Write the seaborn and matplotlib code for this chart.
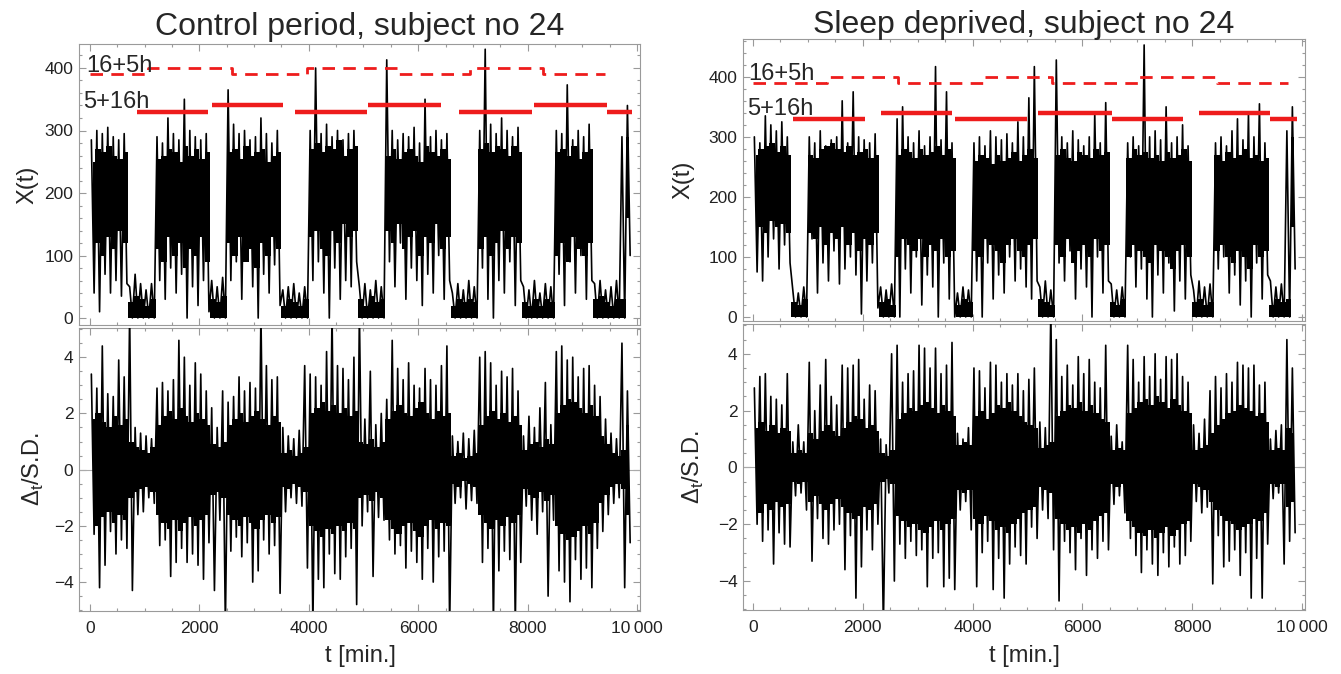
import numpy as np
import pandas as pd
import seaborn as sns
import matplotlib.pyplot as plt
from matplotlib.ticker import MultipleLocator

sns.set_style("ticks")
plt.rcParams['font.family'] = ['Liberation Sans', 'DejaVu Sans']
plt.rcParams['mathtext.fontset'] = 'custom'
plt.rcParams['mathtext.rm'] = 'Liberation Sans'

RED = '#ee1c1c'
GRAY = '#9a9a9a'

# all trace values are per 100 min bin (bin k covers k*100 .. k*100+100)
# blocks (W = awake, S = asleep), left: W7 S5 W10 S3 W10 S5 W9 S5 W12 S5 W8 S6 W7 S5 W2
left_top_hi = [285, 300, 295, 305, 290, 285, 295, 50, 70, 55,
               45, 55, 290, 280, 320, 295, 285, 350, 300, 290,
               285, 295, 60, 50, 65, 365, 310, 295, 300, 285,
               290, 320, 295, 280, 300, 45, 50, 55, 40, 50,
               300, 400, 295, 310, 290, 300, 285, 295, 300, 50,
               55, 45, 60, 50, 413, 300, 285, 295, 290, 305,
               280, 350, 290, 300, 285, 295, 40, 55, 45, 60,
               50, 300, 430, 310, 295, 320, 300, 290, 305, 50,
               45, 60, 40, 55, 50, 300, 295, 373, 285, 300,
               290, 310, 55, 60, 45, 50, 60, 290, 340]
left_top_lo = [40, 10, 70, 40, 60, 35, 55, 0, 0, 0,
               0, 0, 60, 30, 80, 40, 70, 0, 50, 20,
               60, 10, 0, 0, 0, 60, 90, 30, 100, 50,
               0, 70, 40, 85, 20, 0, 0, 0, 0, 0,
               60, 90, 40, 0, 80, 30, 60, 50, 90, 0,
               0, 0, 0, 0, 90, 50, 120, 30, 80, 60,
               20, 70, 40, 100, 30, 60, 0, 0, 0, 0,
               0, 80, 30, 0, 60, 40, 90, 20, 60, 0,
               0, 0, 0, 0, 0, 70, 20, 90, 40, 100,
               30, 60, 0, 0, 0, 0, 0, 0, 100]
# dense part of the trace
left_top_core_hi = [250, 270, 265, 275, 260, 255, 265,
                    25, 35, 30, 20, 30,
                    255, 260, 270, 265, 250, 275, 260, 270, 255, 265,
                    30, 25, 35,
                    265, 270, 255, 275, 260, 265, 270, 250, 260, 265,
                    20, 30, 25, 20, 30,
                    270, 280, 265, 275, 270, 285, 260, 270, 275,
                    30, 20, 35, 25, 30,
                    260, 270, 255, 265, 270, 260, 250, 275, 265, 260, 270, 255,
                    20, 30, 25, 30, 25,
                    270, 280, 265, 275, 270, 260, 275, 265,
                    25, 20, 30, 20, 30, 25,
                    265, 270, 260, 275, 255, 265, 270,
                    30, 35, 25, 20, 30,
                    30, 290]
left_top_core_lo = [90, 120, 100, 130, 110, 140, 120,
                    0, 0, 0, 0, 0,
                    110, 90, 130, 100, 120, 80, 110, 100, 130, 90,
                    0, 0, 0,
                    120, 100, 130, 90, 110, 80, 120, 100, 130, 110,
                    0, 0, 0, 0, 0,
                    130, 140, 110, 100, 140, 120, 150, 130, 140,
                    0, 0, 0, 0, 0,
                    140, 120, 150, 110, 130, 140, 100, 130, 120, 150, 110, 130,
                    0, 0, 0, 0, 0,
                    110, 130, 100, 120, 140, 110, 130, 120,
                    0, 0, 0, 0, 0, 0,
                    100, 120, 90, 130, 110, 100, 120,
                    0, 0, 0, 0, 0,
                    0, 160]

# right: W7 S3 W13 S3 W11 S3 W12 S3 W10 S3 W12 S4 W10 S3 W2
right_top_hi = [300, 290, 335, 320, 310, 325, 300,
                45, 40, 50,
                300, 290, 310, 285, 295, 300, 360, 290, 375, 300, 295, 290, 305,
                50, 45, 55,
                330, 350, 300, 290, 310, 285, 300, 417, 295, 375, 290,
                40, 50, 45,
                290, 300, 285, 310, 300, 295, 305, 290, 325, 300, 365, 417,
                50, 60, 45,
                428, 300, 290, 310, 295, 285, 300, 340, 290, 357,
                55, 45, 50,
                290, 300, 285, 453, 300, 310, 295, 350, 290, 300, 320, 285,
                45, 60, 50, 55,
                290, 300, 285, 310, 330, 295, 340, 300, 355, 290,
                60, 50, 55,
                310, 350]
right_top_lo = [75, 60, 100, 130, 80, 120, 90,
                0, 0, 0,
                130, 40, 90, 60, 110, 55, 80, 100, 70, 5, 60, 90, 15,
                0, 0, 0,
                0, 80, 40, 100, 20, 70, 50, 0, 90, 30, 0,
                0, 0, 0,
                60, 0, 90, 30, 70, 40, 100, 60, 80, 50, 30, 60,
                0, 0, 0,
                90, 60, 110, 30, 80, 50, 0, 100, 40, 60,
                0, 0, 0,
                100, 50, 80, 30, 0, 70, 40, 90, 10, 60, 30, 70,
                0, 0, 0, 0,
                80, 100, 40, 70, 20, 60, 0, 90, 30, 70,
                0, 0, 0,
                0, 80]
right_top_core_hi = [270, 280, 285, 290, 275, 285, 270,
                     25, 20, 30,
                     270, 265, 280, 285, 290, 280, 275, 285, 270, 275, 280, 265, 270,
                     25, 30, 20,
                     270, 280, 275, 265, 280, 270, 275, 285, 270, 280, 265,
                     20, 30, 25,
                     260, 270, 265, 255, 270, 260, 265, 275, 260, 270, 280, 265,
                     30, 25, 20,
                     270, 280, 265, 260, 275, 270, 265, 280, 270, 275,
                     25, 20, 30,
                     265, 280, 270, 275, 265, 270, 260, 275, 265, 270, 280, 260,
                     25, 30, 20, 25,
                     270, 260, 275, 265, 270, 280, 265, 270, 260, 265,
                     20, 30, 25,
                     30, 300]
right_top_core_lo = [130, 150, 140, 160, 150, 155, 140,
                     0, 0, 0,
                     140, 130, 150, 120, 140, 130, 150, 120, 140, 110, 130, 120, 140,
                     0, 0, 0,
                     100, 130, 120, 110, 130, 100, 120, 110, 130, 100, 110,
                     0, 0, 0,
                     110, 100, 130, 120, 110, 90, 120, 130, 110, 100, 120, 130,
                     0, 0, 0,
                     120, 100, 130, 90, 110, 120, 100, 130, 110, 120,
                     0, 0, 0,
                     100, 120, 110, 100, 90, 120, 110, 100, 80, 110, 120, 100,
                     0, 0, 0, 0,
                     110, 120, 100, 90, 110, 100, 80, 120, 100, 110,
                     0, 0, 0,
                     0, 150]

left_bot_hi = [3.4, 2.9, 4.4, 2.7, 2.6, 3.9, 3.3,
               5.6, 1.5, 1.3, 1.2, 1.1,
               2.9, 3.1, 2.8, 3.2, 4.6, 4.0, 3.0, 3.8, 3.4, 2.8,
               2.2, 1.5, 2.8,
               2.4, 2.6, 3.3, 2.8, 3.1, 2.9, 5.6, 3.7, 3.2, 3.3,
               1.5, 1.2, 1.1, 1.4, 3.7,
               3.4, 3.3, 3.0, 4.2, 5.6, 3.7, 3.6, 3.2, 4.0,
               5.6, 1.8, 3.5, 1.6, 2.0,
               2.5, 4.6, 3.6, 3.2, 3.8, 3.0, 2.9, 3.6, 3.2, 3.0, 3.7, 4.4,
               1.2, 1.0, 1.3, 1.1, 1.4,
               4.0, 4.2, 3.8, 3.0, 3.5, 3.3, 3.6, 2.8,
               1.2, 1.9, 1.5, 2.2, 3.1, 1.6,
               4.2, 4.4, 3.9, 4.0, 3.3, 3.6, 3.7, 3.0,
               2.6, 1.8, 1.3, 1.1, 4.5,
               2.8]
left_bot_lo = [-2.3, -4.2, -3.4, -2.2, -3.0, -2.5, -2.8,
               -4.3, -1.6, -1.5, -1.0, -1.2,
               -2.7, -2.5, -3.8, -3.3, -2.8, -3.3, -3.0, -3.4, -3.9, -2.6,
               -4.3, -1.8, -5.6,
               -2.9, -2.4, -3.1, -2.6, -4.0, -3.6, -2.5, -3.0, -2.7, -4.4,
               -1.5, -1.0, -1.2, -1.3, -3.5,
               -5.6, -3.9, -4.2, -3.0, -3.7, -3.9, -3.1, -2.8, -4.8,
               -2.0, -1.5, -3.8, -1.7, -1.8,
               -2.5, -3.0, -2.7, -3.5, -2.9, -3.3, -3.9, -2.8, -4.0, -3.1, -2.9, -5.6,
               -1.2, -1.0, -1.4, -1.1, -1.2,
               -3.3, -2.8, -5.6, -3.6, -2.9, -3.2, -5.6, -3.3,
               -1.3, -1.8, -2.3, -1.5, -4.5, -1.8,
               -3.6, -4.0, -4.7, -3.2, -3.9, -3.5, -4.2, -2.8,
               -2.2, -1.6, -1.2, -1.0, -4.2,
               -2.6]
left_bot_core = [1.8, 2.0, 1.7, 1.5, 1.9, 1.6, 1.8,
                 1.0, 0.8, 0.7, 0.6, 0.8,
                 1.6, 1.9, 2.1, 1.8, 2.2, 1.9, 1.7, 2.0, 1.8, 1.6,
                 0.9, 0.8, 1.0,
                 1.6, 1.8, 2.0, 1.7, 1.9, 2.1, 1.8, 1.6, 1.9, 1.7,
                 0.6, 0.7, 0.5, 0.6, 0.8,
                 2.0, 2.2, 2.4, 2.1, 2.3, 2.0, 2.2, 1.9, 2.1,
                 1.0, 0.9, 1.1, 0.8, 1.0,
                 1.8, 2.1, 2.3, 2.0, 1.9, 2.2, 2.4, 2.0, 1.8, 2.1, 1.9, 2.0,
                 0.5, 0.6, 0.4, 0.5, 0.6,
                 1.6, 1.9, 2.1, 1.8, 2.0, 1.7, 1.9, 1.6,
                 0.7, 0.9, 1.0, 0.8, 1.1, 0.9,
                 2.0, 2.3, 2.5, 2.4, 2.2, 2.0, 2.3, 1.9,
                 1.2, 0.9, 0.6, 0.5, 0.7,
                 1.6]

right_bot_hi = [2.8, 3.2, 3.3, 2.5, 2.4, 2.2, 3.3,
                0.9, 1.5, 0.9,
                3.7, 2.0, 2.9, 3.8, 2.5, 2.2, 3.6, 3.5, 3.6, 3.8, 2.4, 2.9, 2.7,
                1.0, 0.8, 4.0,
                4.3, 3.0, 3.3, 3.4, 4.3, 4.2, 3.5, 4.2, 3.3, 3.6, 4.4,
                1.2, 1.0, 1.4,
                3.5, 3.4, 2.8, 3.7, 3.6, 3.0, 3.3, 2.9, 3.3, 2.7, 3.1, 3.5,
                1.6, 1.4, 5.6,
                4.5, 3.2, 3.6, 2.9, 3.9, 3.3, 3.8, 3.0, 2.8, 4.3,
                1.1, 1.5, 0.9,
                4.3, 3.8, 3.0, 3.9, 3.2, 4.0, 3.1, 3.9, 3.8, 4.0, 3.2, 3.0,
                1.5, 1.2, 1.7, 2.7,
                3.2, 2.8, 3.3, 3.0, 3.7, 3.6, 3.5, 3.6, 2.9, 3.0,
                1.0, 1.3, 1.5,
                4.5, 3.5]
right_bot_lo = [-2.0, -2.6, -2.2, -3.4, -2.3, -2.7, -2.8,
                -1.0, -0.9, -1.5,
                -3.3, -1.8, -2.5, -2.7, -2.2, -2.0, -3.6, -2.4, -4.6, -3.5, -2.2, -2.9, -2.0,
                -5.6, -0.9, -4.0,
                -2.7, -3.2, -2.6, -3.1, -2.9, -4.2, -3.2, -3.0, -4.2, -3.9, -4.3,
                -1.5, -1.2, -2.2,
                -4.2, -3.0, -2.6, -4.3, -3.2, -4.6, -3.4, -2.8, -3.1, -3.4, -2.1, -2.5,
                -1.5, -1.8, -2.9,
                -4.7, -2.6, -3.0, -3.6, -2.5, -3.8, -2.9, -3.2, -2.6, -2.9,
                -1.3, -1.0, -1.6,
                -2.5, -3.1, -3.7, -2.9, -3.4, -3.8, -3.0, -3.5, -2.8, -3.4, -3.1, -2.6,
                -1.2, -1.6, -1.4, -4.1,
                -2.4, -3.5, -3.3, -2.9, -3.8, -3.0, -4.6, -3.2, -4.6, -2.7,
                -1.1, -0.9, -3.4,
                -2.6, -2.3]
right_bot_core = [1.4, 1.6, 1.3, 1.5, 1.2, 1.4, 1.3,
                  0.5, 0.6, 0.5,
                  1.2, 1.0, 1.3, 1.5, 1.3, 1.1, 1.4, 1.6, 1.8, 1.7, 1.4, 1.5, 1.3,
                  0.5, 0.4, 0.6,
                  1.7, 1.9, 2.1, 2.0, 2.2, 2.3, 2.1, 1.9, 2.2, 2.0, 1.8,
                  0.8, 0.9, 0.8,
                  1.8, 2.0, 1.7, 1.9, 2.2, 2.1, 2.3, 2.0, 1.8, 1.6, 1.5, 1.4,
                  0.7, 0.8, 0.9,
                  1.8, 2.0, 2.2, 2.1, 2.3, 2.0, 2.2, 1.9, 1.7, 1.6,
                  0.6, 0.7, 0.6,
                  1.9, 2.1, 2.3, 2.4, 2.2, 2.5, 2.3, 2.1, 2.4, 2.2, 2.0, 1.9,
                  0.6, 0.7, 0.8, 1.2,
                  1.5, 1.7, 1.9, 2.0, 2.2, 2.1, 2.0, 1.8, 1.9, 1.6,
                  0.6, 0.7, 0.6,
                  1.4, 1.2]

# red schedule lines
left_dash_t = [0, 1066, 2590, 3961, 5607, 6947, 8288, 9415]
left_dash_v = [390, 400, 390, 400, 390, 400, 390]
left_solid_t0 = [865, 2230, 3748, 5088, 6746, 8117, 9452]
left_solid_t1 = [2163, 3528, 5058, 6417, 8074, 9452, 9909]
left_solid_v = [330, 340, 330, 340, 330, 340, 330]
right_dash_t = [0, 1342, 2647, 4195, 5440, 7019, 8446, 9751]
right_dash_v = [390, 400, 390, 400, 390, 400, 390]
right_solid_t0 = [734, 2325, 3679, 5197, 6533, 8130, 9417]
right_solid_t1 = [2040, 3619, 4985, 6533, 7838, 9417, 9914]
right_solid_v = [330, 340, 330, 340, 330, 340, 330]

x_ticks = [0, 2000, 4000, 6000, 8000, 10000]
x_labels = ['0', '2000', '4000', '6000', '8000', '10\u2009000']

W, H = 1341, 674
fig = plt.figure(figsize=(W / 100, H / 100), dpi=100)


def box(l, t, r, b):
    return [l / W, 1 - b / H, (r - l) / W, (b - t) / H]


def draw_trace(ax, core_lo, core_hi, hi, lo):
    centers = np.arange(len(hi)) * 100 + 50
    ax.fill_between(centers, core_lo, core_hi, step='mid', color='black', lw=0, zorder=2)
    xs, ys = [], []
    for k, (h, l) in enumerate(zip(hi, lo)):
        xs += [k * 100 + 25, k * 100 + 75]
        ys += [h, l]
    sns.lineplot(x=xs, y=ys, ax=ax, color='black', lw=1.2, sort=False,
                 estimator=None, zorder=3)


def style(ax, xlim, ylim, yticks, yminor, show_x):
    ax.set_xlim(*xlim)
    ax.set_ylim(*ylim)
    ax.set_xticks(x_ticks)
    ax.set_xticklabels(x_labels if show_x else [])
    ax.xaxis.set_minor_locator(MultipleLocator(500))
    ax.set_yticks(yticks)
    ax.yaxis.set_minor_locator(MultipleLocator(yminor))
    ax.tick_params(which='both', direction='in', top=True, right=True,
                   color=GRAY, width=0.8, labelsize=12.5, labelcolor='#222222')
    ax.tick_params(which='major', length=5)
    ax.tick_params(which='minor', length=2.5)
    ax.tick_params(axis='x', pad=7, labelbottom=show_x)
    ax.tick_params(axis='y', pad=4)
    ax.set_xlabel('')
    ax.set_ylabel('')
    for s in ax.spines.values():
        s.set_color(GRAY)
        s.set_linewidth(0.8)


panels = [
    dict(xl=79, xr=640, tt=44, tb=325, bt=328, bb=611,
         tcl=left_top_core_lo, tch=left_top_core_hi, thi=left_top_hi, tlo=left_top_lo,
         bc=left_bot_core, bhi=left_bot_hi, blo=left_bot_lo,
         dt=left_dash_t, dv=left_dash_v, s0=left_solid_t0, s1=left_solid_t1, sv=left_solid_v,
         xlim=(-201, 10055), tylim=(-11.2, 438.4), bylim=(-5.03, 5.04),
         lab16=(-73, 394), lab5=(-128, 336),
         title='Control period, subject no 24', tx=360, ty=35, ylx=(27, 33)),
    dict(xl=743, xr=1305, tt=39, tb=321, bt=324, bb=610,
         tcl=right_top_core_lo, tch=right_top_core_hi, thi=right_top_hi, tlo=right_top_lo,
         bc=right_bot_core, bhi=right_bot_hi, blo=right_bot_lo,
         dt=right_dash_t, dv=right_dash_v, s0=right_solid_t0, s1=right_solid_t1, sv=right_solid_v,
         xlim=(-182, 10055), tylim=(-6.7, 463), bylim=(-5.02, 5.05),
         lab16=(-91, 395), lab5=(-115, 337),
         title='Sleep deprived, subject no 24', tx=1024, ty=33, ylx=(683, 693)),
]

for p in panels:
    ax_t = fig.add_axes(box(p['xl'], p['tt'], p['xr'], p['tb']))
    ax_b = fig.add_axes(box(p['xl'], p['bt'], p['xr'], p['bb']))

    # X(t)
    draw_trace(ax_t, p['tcl'], p['tch'], p['thi'], p['tlo'])
    ax_t.plot(p['dt'], p['dv'] + [p['dv'][-1]], drawstyle='steps-post', color=RED,
              lw=2.0, dashes=(4.5, 3), zorder=4)
    ax_t.hlines(p['sv'], p['s0'], p['s1'], color=RED, lw=3.2, zorder=4)
    ax_t.text(p['lab16'][0], p['lab16'][1], '16+5h', fontsize=17, va='baseline', zorder=5)
    ax_t.text(p['lab5'][0], p['lab5'][1], '5+16h', fontsize=17, va='baseline', zorder=5)
    style(ax_t, p['xlim'], p['tylim'], [0, 100, 200, 300, 400], 20, False)

    # Delta_t / S.D.
    bc = np.array(p['bc'])
    draw_trace(ax_b, -bc, bc, p['bhi'], p['blo'])
    ax_b.axhline(0, color='#aaaaaa', lw=0.8, zorder=1)
    style(ax_b, p['xlim'], p['bylim'], [-4, -2, 0, 2, 4], 0.5, True)

    fig.text(p['tx'] / W, 1 - p['ty'] / H, p['title'], fontsize=23, ha='center', va='baseline')
    fig.text(p['ylx'][0] / W, 1 - (p['tt'] + p['tb']) / 2 / H, 'X(t)', fontsize=17,
             rotation=90, ha='center', va='center')
    fig.text(p['ylx'][1] / W, 1 - (p['bt'] + p['bb']) / 2 / H, '\u0394$_\\mathrm{t}$/S.D.',
             fontsize=17, rotation=90, ha='center', va='center')
    fig.text(p['tx'] / W, 1 - 656 / H, 't [min.]', fontsize=17, ha='center', va='center')

fig.savefig('out.png', dpi=100, facecolor='white')
